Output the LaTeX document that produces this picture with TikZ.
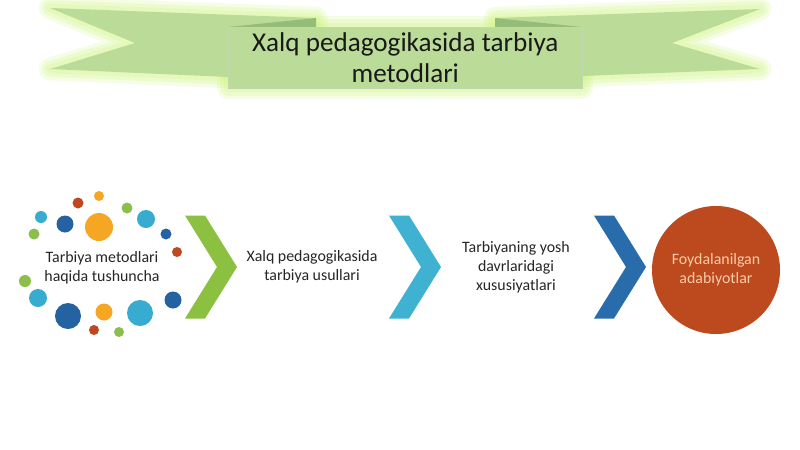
\documentclass[tikz,border=0pt]{standalone}
\usepackage{fontspec}
\setmainfont{Carlito}
\usetikzlibrary{positioning}
\definecolor{ribbon}{RGB}{186,220,152}
\definecolor{ribbonfold}{RGB}{150,188,122}
\definecolor{glowlime}{RGB}{200,245,110}
\definecolor{chevgreen}{RGB}{140,192,64}
\definecolor{chevteal}{RGB}{62,178,208}
\definecolor{chevblue}{RGB}{40,108,172}
\definecolor{rust}{RGB}{188,74,30}
\definecolor{peach}{RGB}{250,204,166}
\definecolor{dotorange}{RGB}{245,166,35}
\definecolor{dotred}{RGB}{192,72,32}
\definecolor{dotgreen}{RGB}{140,190,75}
\definecolor{dotteal}{RGB}{55,172,208}
\definecolor{dotblue}{RGB}{36,98,162}
\tikzset{glow/.style={draw=glowlime,line join=round,line width=#1,opacity=.18},
  band/.style={fill=ribbon},
  etap/.style={align=center,font=\fontsize{11.3}{13.6}\selectfont,text=black!85},
  chevron/.pic={\fill[pic actions] (-26,-51.5) -- ++(20,0) -- ++(32,51.5) -- ++(-32,51.5) -- ++(-20,0) -- ++(32,-51.5) -- cycle;}}

\begin{document}
\begin{tikzpicture}[x=0.025cm,y=-0.025cm]
\useasboundingbox[fill=white] (0,0) rectangle (800,449);
% lenta
\foreach \w in {16,11,6}{
  \draw[glow=\w] (50,8)--(316,18)--(316,27)--(228,27)--(228,77)--(50,69)--(135,43)--cycle;
  \draw[glow=\w] (760,9)--(495,18)--(495,27)--(582,27)--(582,76)--(760,69)--(672,43)--cycle;
  \draw[glow=\w] (228,27) rectangle (582,88);
}
\fill[band] (50,8)--(316,18)--(316,27)--(228,27)--(228,77)--(50,69)--(135,43)--cycle;
\fill[band] (760,9)--(495,18)--(495,27)--(582,27)--(582,76)--(760,69)--(672,43)--cycle;
\fill[ribbonfold] (228,27)--(316,18)--(316,27)--cycle;
\fill[ribbonfold] (582,27)--(495,18)--(495,27)--cycle;
\node[band,draw=ribbonfold!60,minimum width=354*0.025cm,minimum height=61*0.025cm,anchor=north west] (lenta) at (228,27) {};
\node[align=center,font=\fontsize{19.3}{22}\selectfont,text=black!90] (sarlavha) at (lenta.center) {Xalq pedagogikasida tarbiya\\metodlari};
% nuqtalar
\foreach \px/\py/\r/\c in {99/196/5/dotorange,78/203/5.5/dotred,127/208/5.5/dotgreen,41/217/6/dotteal,
  65/224/8.5/dotblue,99/227/14/dotorange,146/219/9/dotteal,34/234/5.5/dotgreen,166/234/5.5/dotblue,
  177/252/5/dotred,25/281/6/dotgreen,38/298/9/dotteal,173/300/8.5/dotblue,68/316/13/dotblue,
  104/312/8.5/dotorange,140/313/13/dotteal,94/330/5/dotred,119/332/5/dotgreen}
  \fill[\c] (\px,\py) circle[radius=\r];
\node[etap] (tushuncha) at (102,268) {Tarbiya metodlari\\haqida tushuncha};
% bosqichlar
\pic[fill=chevgreen] (ch1) at (211,267) {chevron};
\node[etap] (usullar) at (312,267) {Xalq pedagogikasida\\tarbiya usullari};
\pic[fill=chevteal] (ch2) at (415,267) {chevron};
\node[etap] (xususiyat) at (516,267) {Tarbiyaning yosh\\davrlaridagi\\xususiyatlari};
\pic[fill=chevblue] (ch3) at (620,267) {chevron};
\node[circle,fill=rust,minimum size=128*0.025cm,etap,text=peach] (adabiyot) at (716,270) {Foydalanilgan\\adabiyotlar};
\end{tikzpicture}
\end{document}
